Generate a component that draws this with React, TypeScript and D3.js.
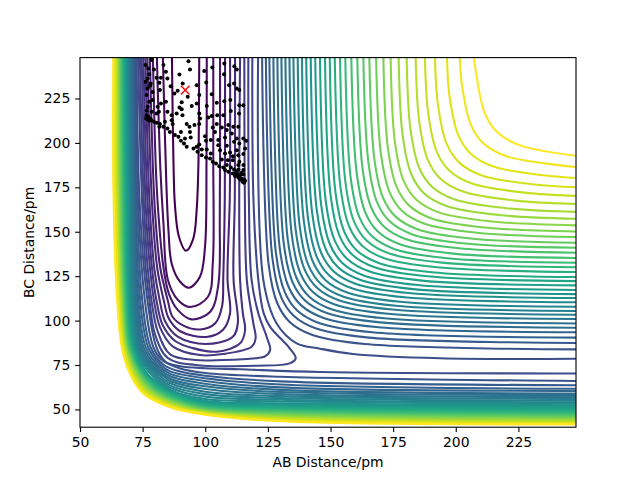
import React, { useEffect, useRef } from "react";
import * as d3 from "d3";

type Pt = [number, number];

// Chart configuration
const width = 640;
const height = 480;
const marginTop = 57.6;
const marginRight = 64;
const marginBottom = 52.8;
const marginLeft = 80;
const labelFont = "'DejaVu Sans', sans-serif";

const abDomain = [50, 248];
const bcDomain = [40, 248];
const abTicks = [50, 75, 100, 125, 150, 175, 200, 225];
const bcTicks = [50, 75, 100, 125, 150, 175, 200, 225];
const levelCount = 47;

// Levels 0-10: closed valley contours, both arms leave through the top edge
const valleyContours: Pt[][] = [
  [[86.7,248],[87.3,190],[87.9,165],[89.5,147.2],[92.3,139.3],[95.2,146],[96.6,163],[97.3,190],[97.6,248]],
  [[83.1,248],[84.4,180],[85.3,151],[86.6,132],[89.9,122],[93.5,118.5],[97.9,124.7],[99.9,141.5],[100.5,190],[100.6,248]],
  [[80.7,248],[82.1,185],[83.3,155],[85.1,122.8],[89.1,111.6],[94,107.6],[101.1,113.4],[103,132],[103.2,190],[103.2,248]],
  [[79.1,248],[80.3,185],[81.3,160],[83.3,130],[85.5,115],[89,106],[94.5,100.7],[102,105],[105.2,120],[105.8,160],[105.9,248]],
  [[77.9,248],[79,190],[80,160],[82,130],[85,111.6],[87,102],[91.5,97],[98,95],[104,98.5],[106.7,108],[107.2,125],[107.8,170],[107.9,248]],
  [[76.9,248],[78,190],[79,160],[80.8,130],[83.4,111.6],[85.5,101],[90,94],[100.5,90.8],[107,94.7],[109.9,104.2],[108.9,122.8],[109.8,170],[109.9,248]],
  [[76.1,248],[77.1,190],[78,160],[79.6,130],[81.8,111.6],[84,99.5],[89,91],[100,86.8],[111,90.9],[113,98.6],[111.3,122.8],[111.8,170],[111.9,248]],
  [[75.3,248],[76.3,190],[77.2,160],[78.7,130],[80.5,111.6],[83,97.5],[88,88.5],[95,84.5],[104.7,82.5],[113.9,87.2],[115.9,94.7],[115,104.2],[113.9,122.8],[113.9,248]],
  [[74.6,248],[75.6,190],[76.4,160],[77.9,130],[79.5,111.6],[82,96],[87,85.5],[97.9,80.6],[107,81.2],[118.5,85.3],[120.1,90],[119.2,98.4],[116.6,122.8],[115.8,170],[115.6,248]],
  [[73.9,248],[74.9,190],[75.7,160],[77,130],[78.5,111.6],[81,94],[86,81],[96,77.8],[107,77.8],[120,78.8],[124,80],[125.9,83.4],[124.5,90.9],[121.2,104],[118.5,122.8],[117.4,170],[117.2,248]],
  [[73.2,248],[74.2,190],[75,160],[76.2,130],[77.7,111.6],[80,92],[85,79],[96,75],[120.5,74.6],[133.7,75.9],[136.1,78.8],[133.7,84.4],[125.9,96.5],[123.3,104.2],[121.2,122.8],[119.2,170],[118.8,248]],
];

// Levels 11-46: branch from the top edge round to the right edge
const upperContours: Pt[][] = [
  [[121.1,248],[123.2,122.8],[128.5,98.4],[136.5,87.2],[145.8,84.2],[159,81.2],[193.7,78.8],[248,78.5]],
  [[122.7,248],[125.3,131.6],[128.8,109.6],[133.8,99.1],[142.8,91.9],[163.8,86.8],[248,83.8]],
  [[124.2,248],[126.8,135.2],[130.3,113.2],[135.3,102.7],[144.3,95.5],[165.3,90.4],[248,87.4]],
  [[125.6,248],[128.2,138.2],[131.7,116.2],[136.7,105.7],[145.7,98.5],[166.7,93.4],[248,90.4]],
  [[127.2,248],[129.7,141.2],[133.2,119.2],[138.2,108.7],[147.2,101.5],[168.2,96.4],[248,93.4]],
  [[128.8,248],[131.3,143.8],[134.8,121.8],[139.8,111.3],[148.8,104.1],[169.8,99],[248,96]],
  [[130.4,248],[132.9,146.1],[136.4,124.1],[141.4,113.6],[150.4,106.4],[171.4,101.3],[248,98.4]],
  [[132,248],[134.5,148.6],[138,126.6],[143,116.1],[152,108.9],[173,103.8],[248,100.9]],
  [[133.6,248],[136.1,151],[139.6,129],[144.6,118.5],[153.6,111.3],[174.6,106.2],[248,103.3]],
  [[135.2,248],[137.7,153.1],[141.2,131.1],[146.2,120.6],[155.2,113.4],[176.2,108.3],[248,105.4]],
  [[136.9,248],[139.4,155.4],[142.9,133.4],[147.9,122.9],[156.9,115.7],[177.9,110.6],[248,107.8]],
  [[138.6,248],[141,157.9],[144.5,135.9],[149.5,125.4],[158.5,118.2],[179.5,113.1],[248,110.3]],
  [[140.3,248],[142.7,160.3],[146.2,138.3],[151.2,127.8],[160.2,120.6],[181.2,115.5],[248,112.7]],
  [[142.1,248],[144.5,162.5],[148,140.5],[153,130],[162,122.8],[183,117.7],[248,114.9]],
  [[143.9,248],[146.3,164.8],[149.8,142.8],[154.8,132.3],[163.8,125.1],[184.8,120],[248,117.2]],
  [[145.8,248],[148.1,167.3],[151.6,145.3],[156.6,134.8],[165.6,127.6],[186.6,122.5],[248,119.8]],
  [[147.8,248],[150.1,169.7],[153.6,147.7],[158.6,137.2],[167.6,130],[188.6,124.9],[248,122.2]],
  [[149.7,248],[152,172],[155.5,150],[160.5,139.5],[169.5,132.3],[190.5,127.2],[248,124.5]],
  [[151.7,248],[154,174.8],[157.5,152.8],[162.5,142.3],[171.5,135.1],[192.5,130],[248,127.3]],
  [[153.8,248],[156,177.4],[159.5,155.4],[164.5,144.9],[173.5,137.7],[194.5,132.6],[248,130]],
  [[155.9,248],[158.1,179.9],[161.6,157.9],[166.6,147.4],[175.6,140.2],[196.6,135.1],[248,132.5]],
  [[158.3,248],[160.5,182.5],[164,160.5],[169,150],[178,142.8],[199,137.7],[248,135.2]],
  [[160.7,248],[162.8,185.5],[166.3,163.5],[171.3,153],[180.3,145.8],[201.3,140.7],[248,138.2]],
  [[163.1,248],[165.2,188.2],[168.7,166.2],[173.7,155.7],[182.7,148.5],[203.7,143.4],[248,141]],
  [[165.5,248],[167.5,191],[171,169],[176,158.5],[185,151.3],[206,146.2],[248,143.8]],
  [[168.2,248],[170.1,194.2],[173.6,172.2],[178.6,161.7],[187.6,154.5],[208.6,149.4],[248,147]],
  [[171.1,248],[172.9,197.2],[176.4,175.2],[181.4,164.7],[190.4,157.5],[211.4,152.4],[248,150.1]],
  [[174,248],[175.7,200.6],[179.2,178.6],[184.2,168.1],[193.2,160.9],[214.2,155.8],[248,153.6]],
  [[177.2,248],[178.8,204.2],[182.3,182.2],[187.3,171.7],[196.3,164.5],[217.3,159.4],[248,157.3]],
  [[180.4,248],[181.9,208],[185.4,186],[190.4,175.5],[199.4,168.3],[220.4,163.2],[248,161.2]],
  [[184,248],[185.4,212.3],[188.9,190.3],[193.9,179.8],[202.9,172.6],[223.9,167.5],[248,165.6]],
  [[187.7,248],[189,216.8],[192.5,194.8],[197.5,184.3],[206.5,177.1],[227.5,172],[248,170.2]],
  [[191.7,248],[192.9,221.4],[196.4,199.4],[201.4,188.9],[210.4,181.7],[231.4,176.6],[248,175]],
  [[196.5,248],[197.5,226.4],[201,204.4],[206,193.9],[215,186.7],[236,181.6],[248,180.2]],
  [[201.6,248],[202.5,232.3],[206,210.3],[211,199.8],[220,192.6],[241,187.5],[248,186.4]],
  [[207.3,248],[208.2,238.3],[211.7,216.3],[216.7,205.8],[225.7,198.6],[248,192.8]],
];

// Levels 11-46: branch from the top edge down the left wall and along the bottom
const lowerContours: Pt[][] = [
  [[72.6,248],[73.7,170],[76.6,115],[80.5,85],[84,77],[90,74.3],[100,73.2],[113.9,72.6],[145.8,71.1],[248,70.2]],
  [[72.1,248],[73.1,170],[75.6,115],[79.3,85],[83,77.5],[90,73],[100,70.5],[130,68.4],[248,66]],
  [[71.6,248],[72.6,170],[74.6,115],[78.2,85],[83.5,75],[90,71.3],[100,69],[130,65.8],[248,63.6]],
  [[71.2,248],[72.1,170],[73.8,115],[77.2,85],[82.2,75],[86,71.4],[100,67.5],[130,64],[248,61.6]],
  [[70.8,248],[71.7,170],[73.1,115],[76.2,85],[81,75],[86,70],[100,66],[130,62.4],[248,60.4]],
  [[70.5,248],[71.4,170],[72.6,115],[75.4,85],[80,75],[86,68.7],[100,64.5],[130,61],[248,59]],
  [[70.2,248],[71,170],[72.1,115],[74.7,85],[79.1,75],[86,67.3],[100,63],[130,59.8],[248,58.1]],
  [[69.8,248],[70.6,170],[71.6,115],[74.1,85],[78.2,75],[84,68],[86,66],[100,61.5],[130,58.6],[248,57]],
  [[69.5,248],[70.3,170],[71.2,115],[73.5,85],[77.5,75],[82.7,68],[86,64.7],[100,60],[130,57.5],[248,55.9]],
  [[69.2,248],[69.9,170],[70.8,115],[73,85],[76.8,75],[81.5,68],[86,63.4],[100,58.6],[130,56.4],[248,54.9]],
  [[68.9,248],[69.6,170],[70.4,115],[72.6,85],[76.2,75],[80.5,68],[86,62.2],[100,57.2],[130,55.4],[248,54]],
  [[68.6,248],[69.3,170],[70,115],[72.2,85],[75.4,75],[79.5,68],[86,61],[100,55.9],[130,54.5],[248,53.2]],
  [[68.3,248],[69.1,170],[69.7,115],[71.9,85],[76.9,70],[81.9,64.1],[86,60.6],[100,54.9],[130,53.5],[248,52.4]],
  [[68.1,248],[68.9,170],[69.5,115],[71.6,85],[76.6,70],[81.6,63.9],[86,60.2],[100,54.3],[130,52.8],[248,51.6]],
  [[67.8,248],[68.5,170],[69.2,115],[71.3,85],[76.3,70],[81.3,63.7],[86,59.8],[100,53.8],[130,52.2],[248,51]],
  [[67.6,248],[68.3,170],[69,115],[71,85],[76,70],[81,63.5],[86,59.3],[100,53.2],[130,51.6],[248,50.3]],
  [[67.3,248],[68,170],[68.7,115],[70.7,85],[75.7,70],[80.7,63.3],[86,58.9],[100,52.8],[130,51.1],[248,49.7]],
  [[67.1,248],[67.7,170],[68.5,115],[70.5,85],[75.4,70],[80.4,63.1],[86,58.4],[100,52.3],[130,50.6],[248,49.1]],
  [[66.9,248],[67.5,170],[68.3,115],[70.2,85],[75.1,70],[80.1,62.8],[86,58],[100,51.9],[130,50.1],[248,48.5]],
  [[66.6,248],[67.2,170],[68,115],[70,85],[74.8,70],[79.8,62.6],[86,57.5],[100,51.5],[130,49.6],[248,48]],
  [[66.4,248],[67,170],[67.8,115],[69.7,85],[74.5,70],[79.5,62.4],[86,57.1],[100,51.1],[130,49.2],[248,47.4]],
  [[66.2,248],[66.7,170],[67.6,115],[69.5,85],[74.2,70],[79.2,62.2],[86,56.6],[100,50.8],[130,48.8],[248,47]],
  [[66,248],[66.5,170],[67.4,115],[69.3,85],[73.9,70],[78.9,62],[86,56.2],[100,50.5],[130,48.4],[248,46.5]],
  [[65.8,248],[66.3,170],[67.2,115],[69.1,85],[73.6,70],[78.6,61.8],[86,55.8],[100,50.1],[130,48],[248,46.1]],
  [[65.6,248],[66,170],[67,115],[68.9,85],[73.3,70],[78.3,61.6],[86,55.4],[100,49.8],[130,47.5],[248,45.6]],
  [[65.4,248],[65.8,170],[66.8,115],[68.7,85],[73,70],[78,61.4],[86,55],[100,49.5],[130,47.1],[248,45.2]],
  [[65.2,248],[65.6,170],[66.6,115],[68.5,85],[72.7,70],[77.7,61.2],[86,54.6],[100,49.2],[130,46.7],[248,44.8]],
  [[65,248],[65.3,170],[66.4,115],[68.3,85],[72.4,70],[77.4,61],[86,54.2],[100,49],[130,46.3],[248,44.4]],
  [[64.8,248],[65.1,170],[66.2,115],[68.1,85],[72.1,70],[77.1,60.8],[86,53.8],[100,48.7],[130,45.9],[248,44]],
  [[64.6,248],[64.9,170],[66,115],[67.9,85],[71.8,70],[76.8,60.6],[86,53.4],[100,48.5],[130,45.5],[248,43.6]],
  [[64.4,248],[64.7,170],[65.8,115],[67.7,85],[71.5,70],[76.5,60.3],[86,53],[100,48.2],[130,45.1],[248,43.2]],
  [[64.2,248],[64.4,170],[65.6,115],[67.5,85],[71.2,70],[76.2,60.1],[86,52.6],[100,48],[130,44.7],[248,42.8]],
  [[64,248],[64.2,170],[65.4,115],[67.3,85],[70.9,70],[75.9,59.9],[86,52.2],[100,47.7],[130,44.3],[248,42.4]],
  [[63.8,248],[64,170],[65.2,115],[67.1,85],[70.6,70],[75.6,59.7],[86,51.9],[100,47.5],[130,44],[248,42]],
  [[63.5,248],[63.6,170],[64.9,115],[66.9,85],[70.3,70],[75.3,59.5],[86,51.5],[100,47.3],[130,43.6],[248,41.8]],
  [[63.3,248],[63.4,170],[64.7,115],[66.7,85],[70,70],[75,59.3],[86,51.2],[100,47],[130,43.3],[248,41.5]],
];

// Simulated trajectory points [AB, BC]
const trajectoryPoints: Pt[] = [
  [76.2,243.8],[77.3,241.9],[78.6,246.6],[79.5,241.3],[77.6,238.7],[77,236.3],[76.2,234.4],[78.2,233.4],[78,232.1],[80.6,236.6],
  [82.3,236.6],[81.7,233.8],[84.3,240],[83.3,243.8],[84.9,236.3],[86.2,231.9],[89.7,238.5],[93.3,246],[93.9,241.3],[91,233.4],
  [89,229.3],[87.7,227.8],[96.6,232.5],[99.6,240.4],[102.8,242.4],[107.6,244.7],[111.6,243.2],[112.6,241.3],[100.4,234],[107.5,238.7],
  [111.5,233.4],[109.5,232.5],[112.6,230.6],[113.6,229.7],[102.6,227.4],[97.6,226.9],[93,225.9],[107.6,223.5],[110,224.1],[104.6,222.6],
  [90.6,222.9],[89.7,219.9],[90.6,219],[94.6,220.7],[96.6,222.2],[88.6,216.6],[90.9,215.6],[100.6,220.7],[113.6,221.2],[115.2,221.2],
  [81.9,229.7],[77,230.6],[76.6,226.9],[79,228.7],[79,224.1],[77.6,223.1],[84.3,223.1],[82.3,222.2],[81,220.3],[81.5,217.5],
  [80.6,216.6],[77,220.3],[76.6,218.1],[78.6,217.5],[84.9,217.5],[86.6,215.6],[97.6,216.6],[97.9,213.7],[102.6,215.2],[104.8,215.6],
  [107.2,215.6],[101.2,214.3],[110.2,217.9],[113.5,216.6],[76.6,215.6],[77.3,214.7],[76.4,213.7],[77,213.2],[77.9,213.7],[78.6,212.8],
  [77.7,212.4],[79.5,211.9],[80.6,211.3],[81.9,210.6],[81.7,209.1],[83.9,211.9],[83.3,209.1],[84.9,208.1],[86.6,212.8],[87,210.6],
  [85.9,206.2],[87.9,204.4],[89.3,203.4],[90.3,206.2],[92.6,210.6],[93.7,209.1],[95.7,210],[97.6,210.6],[93.9,206.2],[94.2,203],
  [91.9,202.5],[90.3,201.2],[91.5,199.7],[92.6,197.8],[95.3,196.9],[96.6,197.8],[97.6,199.1],[98.6,196.3],[96.9,195],[100.6,196.3],
  [99.9,203.8],[100.3,201.2],[103,208.7],[104.6,210.6],[106.6,208.7],[109.2,210],[111.2,209.1],[113.2,209.1],[103.9,206.2],[102.2,201.6],
  [105.2,201.6],[108.6,207.2],[110.6,205.3],[107.9,203],[112.6,202.5],[115.2,202.5],[116.3,201.2],[113.6,199.7],[111.5,200.6],[105.2,198.7],
  [108.6,198.4],[105.9,195.9],[102.2,194],[109.9,194.6],[112.6,195.9],[115.9,196.9],[115.2,193.7],[113.2,193.1],[111,192.5],[107.9,194],
  [106.6,190.7],[109,190.3],[111,190.3],[113.6,189.4],[115.2,187.5],[113.2,187.5],[98.6,193.1],[100.3,191.8],[101.9,191.2],[103,189.4],
  [104.3,188.4],[105.6,186.9],[107.2,186.2],[108.6,187.5],[110.2,186.2],[111.5,185],[113.2,185],[115.2,184.7],[107.9,184.7],[109.2,183.7],
  [111,182.8],[112.6,182.4],[113.9,181.8],[115.2,182.4],[111.9,181.3],[113.2,180.5],[114.6,180],[115.5,179.4],[113.9,179.4],[114.9,178.1],
  [115.5,177.5],[115.9,178.7],[112.6,183.7],[114.6,183.2],
];

// Starting point, drawn as the red cross
const startPoint: Pt = [92, 229.7];

const App: React.FC = () => {
  const svgRef = useRef<SVGSVGElement>(null);

  useEffect(() => {
    if (!svgRef.current) return;
    const svg = d3.select(svgRef.current);
    svg.selectAll("*").remove();

    const x = d3.scaleLinear().domain(abDomain).range([marginLeft, width - marginRight]);
    const y = d3.scaleLinear().domain(bcDomain).range([height - marginBottom, marginTop]);
    const color = d3.scaleSequential(d3.interpolateViridis).domain([0, levelCount - 1]);

    svg
      .append("defs")
      .append("clipPath")
      .attr("id", "plot-area")
      .append("rect")
      .attr("x", marginLeft)
      .attr("y", marginTop)
      .attr("width", width - marginLeft - marginRight)
      .attr("height", height - marginTop - marginBottom);

    const line = d3
      .line<Pt>()
      .x((d) => x(d[0]))
      .y((d) => y(d[1]))
      .curve(d3.curveCatmullRom);

    const plot = svg.append("g").attr("clip-path", "url(#plot-area)");

    // Contours, lowest level first
    const drawContours = (lines: Pt[][], firstLevel: number) => {
      plot
        .append("g")
        .attr("fill", "none")
        .attr("stroke-width", 2.08)
        .selectAll("path")
        .data(lines)
        .join("path")
        .attr("stroke", (_, i) => color(firstLevel + i))
        .attr("d", (d) => line(d));
    };
    drawContours(valleyContours, 0);
    drawContours(upperContours, valleyContours.length);
    drawContours(lowerContours, valleyContours.length);

    // Trajectory points
    plot
      .append("g")
      .selectAll("circle")
      .data(trajectoryPoints)
      .join("circle")
      .attr("cx", (d) => x(d[0]))
      .attr("cy", (d) => y(d[1]))
      .attr("r", 2)
      .attr("fill", "black");

    // Red cross
    plot
      .append("path")
      .datum(startPoint)
      .attr("d", d3.symbol(d3.symbolX, 50))
      .attr("transform", (d) => `translate(${x(d[0])},${y(d[1])})`)
      .attr("stroke", "red")
      .attr("stroke-width", 1.4)
      .attr("fill", "none");

    // Axes
    const xAxis = svg
      .append("g")
      .attr("transform", `translate(0,${height - marginBottom})`)
      .call(d3.axisBottom(x).tickValues(abTicks).tickSize(4.86).tickPadding(4.86));
    const yAxis = svg
      .append("g")
      .attr("transform", `translate(${marginLeft},0)`)
      .call(d3.axisLeft(y).tickValues(bcTicks).tickSize(4.86).tickPadding(4.86));
    [xAxis, yAxis].forEach((g) => {
      g.select(".domain").remove();
      g.selectAll(".tick line").attr("stroke", "black").attr("stroke-width", 1.1);
      g.selectAll("text")
        .attr("fill", "black")
        .style("font-family", labelFont)
        .style("font-size", "13.9px");
    });

    // Frame
    svg
      .append("rect")
      .attr("x", marginLeft)
      .attr("y", marginTop)
      .attr("width", width - marginLeft - marginRight)
      .attr("height", height - marginTop - marginBottom)
      .attr("fill", "none")
      .attr("stroke", "black")
      .attr("stroke-width", 1.1);

    // Axis labels
    svg
      .append("text")
      .attr("x", (marginLeft + width - marginRight) / 2)
      .attr("y", 467)
      .attr("text-anchor", "middle")
      .style("font-family", labelFont)
      .style("font-size", "13.9px")
      .text("AB Distance/pm");
    svg
      .append("text")
      .attr("transform", `translate(34,${(marginTop + height - marginBottom) / 2}) rotate(-90)`)
      .attr("text-anchor", "middle")
      .style("font-family", labelFont)
      .style("font-size", "13.9px")
      .text("BC Distance/pm");
  }, []);

  return (
    <svg
      ref={svgRef}
      width={width}
      height={height}
      style={{ position: "absolute", left: 0, top: 0, background: "white" }}
    />
  );
};

export default App;
